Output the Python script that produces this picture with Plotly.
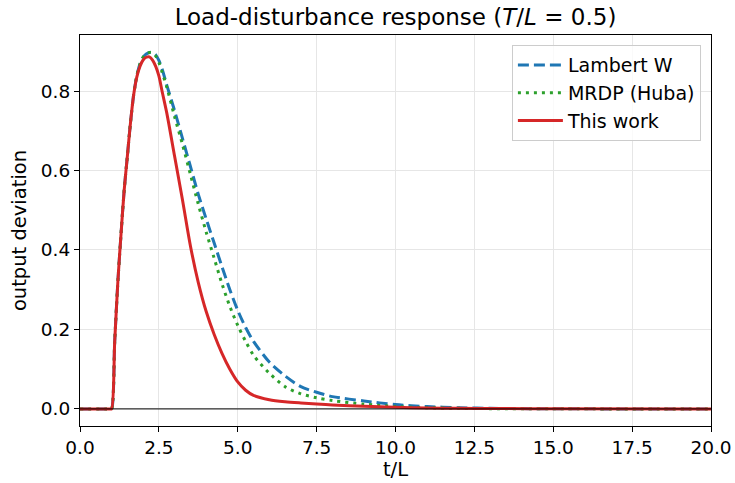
import plotly.graph_objects as go

# time axis (t/L)
t_grid = [0.0, 0.95, 1.0, 1.1, 1.2, 1.3, 1.4, 1.5, 1.6, 1.7, 1.8, 1.9, 2.0, 2.1, 2.2, 2.3, 2.4,
          2.5, 2.6, 2.75, 3.0, 3.25, 3.5, 3.75, 4.0, 4.25, 4.5, 4.75, 5.0, 5.25, 5.5,
          6.0, 6.5, 7.0, 7.5, 8.0, 9.0, 10.0, 11.0, 12.0, 13.0, 15.0, 20.0]

lambert_w = [0, 0, 0, 0.17, 0.32, 0.44, 0.55, 0.635, 0.72, 0.79, 0.838, 0.868, 0.885, 0.893,
             0.897, 0.897, 0.891, 0.877, 0.856, 0.815, 0.75, 0.68, 0.61, 0.54, 0.478,
             0.418, 0.358, 0.30, 0.248, 0.205, 0.17, 0.118, 0.083, 0.056, 0.042, 0.031,
             0.020, 0.011, 0.006, 0.003, 0.0015, 0.0003, 0.0]

mrdp_huba = [0, 0, 0, 0.17, 0.32, 0.44, 0.55, 0.635, 0.72, 0.79, 0.838, 0.868, 0.885, 0.893,
             0.897, 0.895, 0.888, 0.872, 0.848, 0.81, 0.735, 0.665, 0.59, 0.515, 0.445,
             0.38, 0.315, 0.258, 0.21, 0.17, 0.135, 0.09, 0.056, 0.038, 0.028, 0.021,
             0.012, 0.006, 0.003, 0.0015, 0.0007, 0.0002, 0.0]

this_work = [0, 0, 0, 0.17, 0.32, 0.44, 0.55, 0.635, 0.72, 0.79, 0.835, 0.862, 0.878, 0.885,
             0.886, 0.878, 0.862, 0.838, 0.80, 0.745, 0.635, 0.525, 0.41, 0.318, 0.245,
             0.188, 0.14, 0.10, 0.068, 0.047, 0.034, 0.023, 0.018, 0.015, 0.0125, 0.010,
             0.0065, 0.004, 0.0025, 0.0015, 0.001, 0.0003, 0.0]

x_ticks = [0, 2.5, 5, 7.5, 10, 12.5, 15, 17.5, 20]
y_ticks = [0.0, 0.2, 0.4, 0.6, 0.8]

FONT = "DejaVu Sans"

fig = go.Figure()
fig.add_trace(go.Scatter(x=t_grid, y=lambert_w, mode="lines", name="Lambert W",
                         legendgroup="a",
                         line=dict(color="#1f77b4", width=3, dash="11px,5px",
                                   shape="spline", smoothing=0.8)))
fig.add_trace(go.Scatter(x=t_grid, y=mrdp_huba, mode="lines", name="MRDP (Huba)",
                         legendgroup="b",
                         line=dict(color="#2ca02c", width=3, dash="3px,5px",
                                   shape="spline", smoothing=0.8)))
fig.add_trace(go.Scatter(x=t_grid, y=this_work, mode="lines", name="This work",
                         legendgroup="c",
                         line=dict(color="#d62728", width=3,
                                   shape="spline", smoothing=0.8)))

fig.add_shape(type="line", xref="paper", x0=0, x1=1, yref="y", y0=0, y1=0,
              line=dict(color="black", width=1), layer="above")

axis_common = dict(showline=True, linecolor="black", linewidth=1.2, mirror=True,
                   ticks="outside", ticklen=5, tickwidth=1.2, tickcolor="black",
                   showgrid=True, gridcolor="#e6e6e6", gridwidth=1, zeroline=False,
                   automargin=False,
                   tickfont=dict(family=FONT, size=18.5, color="black"))

fig.update_xaxes(range=[0, 20], tickvals=x_ticks, tickformat=".1f",
                 title=dict(text="t/L", font=dict(family=FONT, size=19.5, color="black"),
                            standoff=4),
                 **axis_common)
fig.update_yaxes(range=[-0.043, 0.941], tickvals=y_ticks, tickformat=".1f",
                 title=dict(text="output deviation",
                            font=dict(family=FONT, size=19.5, color="black"), standoff=8),
                 **axis_common)

fig.update_layout(
    width=735, height=483,
    margin=dict(l=80, r=24, t=35, b=57, autoexpand=False),
    paper_bgcolor="white", plot_bgcolor="white",
    font=dict(family=FONT, size=19, color="black"),
    title=dict(text="Load-disturbance response (<i>T</i>/<i>L</i> = 0.5)",
               x=0.5, xref="paper", xanchor="center",
               y=1 - 17 / 483, yref="container", yanchor="middle",
               font=dict(family=FONT, size=23, color="black")),
    legend=dict(x=0.984, xanchor="right", y=0.974, yanchor="top",
                bgcolor="rgba(255,255,255,0.8)", bordercolor="#cccccc", borderwidth=1,
                font=dict(family=FONT, size=19, color="black"),
                tracegroupgap=0, itemwidth=45),
    showlegend=True,
)

fig.write_html("out.html",
               config={"displayModeBar": False},
               post_script="document.body.style.margin='0px';document.body.style.padding='0px';")
